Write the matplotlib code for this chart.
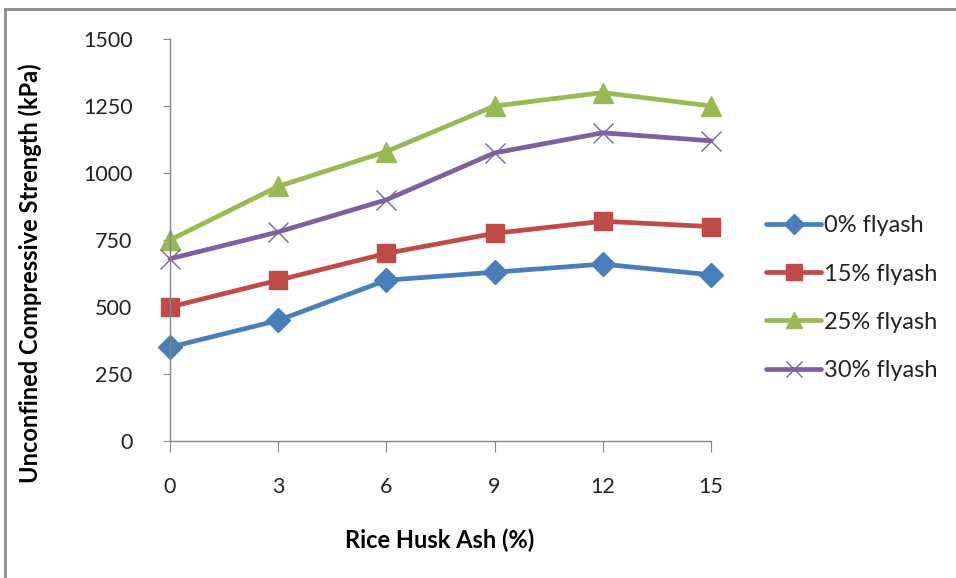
import matplotlib
matplotlib.use("Agg")
import matplotlib.pyplot as plt
from matplotlib.lines import Line2D

plt.rcParams['font.family'] = ['Lato', 'DejaVu Sans']

rha = [0, 3, 6, 9, 12, 15]
fly0 = [350, 450, 600, 630, 660, 620]
fly15 = [500, 600, 700, 775, 820, 800]
fly25 = [750, 950, 1080, 1250, 1300, 1250]
fly30 = [680, 780, 900, 1075, 1150, 1120]
labels = ["0% flyash", "15% flyash", "25% flyash", "30% flyash"]
yticks = [0, 250, 500, 750, 1000, 1250, 1500]
xticks = [0, 3, 6, 9, 12, 15]

colors = ["#4A7EBB", "#BE4B48", "#98B954", "#7D60A0"]

fig = plt.figure(figsize=(9.56, 5.78), dpi=100)
ax = fig.add_axes([170 / 956, 1 - 441 / 578, (711 - 170) / 956, (441 - 39) / 578])

styles = [
    dict(marker="D", markersize=12),
    dict(marker="s", markersize=13),
    dict(marker="^", markersize=14),
    dict(marker="x", markersize=14, markeredgewidth=1.0),
]
series = [fly0, fly15, fly25, fly30]
for vals, lab, col, st in zip(series, labels, colors, styles):
    ax.plot(rha, vals, color=col, linewidth=3.4, label=lab,
            markerfacecolor=col, markeredgecolor=col, solid_capstyle="round",
            clip_on=False, **st)

ax.set_xlim(0, 15)
ax.set_ylim(0, 1500)
ax.set_xticks(xticks)
ax.set_yticks(yticks)
ax.set_yticklabels([str(v) for v in yticks])
for s in ["top", "right"]:
    ax.spines[s].set_visible(False)
for s in ["left", "bottom"]:
    ax.spines[s].set_color("#868686")
    ax.spines[s].set_linewidth(1.0)
ax.tick_params(axis="y", direction="out", length=5, color="#868686",
               labelsize=15.5, labelcolor="#222222", pad=22)
ax.tick_params(axis="x", direction="out", length=8, color="#868686",
               labelsize=15.5, labelcolor="#222222", pad=18)

ax.set_xlabel("Rice Husk Ash (%)", fontsize=17, fontweight="bold")
ax.set_ylabel("Unconfined Compressive Strength (kPa)", fontsize=17,
              fontweight="bold")
ax.xaxis.set_label_coords(0.499, -0.246)
ax.xaxis.label.set_va("center")
ax.yaxis.set_label_coords(-0.259, 0.418)
ax.yaxis.label.set_va("center")

leg = fig.legend(loc="upper left", bbox_to_anchor=(757 / 956, 1 - 206 / 578),
                 frameon=False, fontsize=17, handlelength=2.3,
                 handletextpad=0.15, labelspacing=1.15, borderaxespad=0,
                 markerscale=0.85)
for t in leg.get_texts():
    t.set_color("#222222")

# outer frame
fig.add_artist(Line2D([5 / 956, 5 / 956], [0, 1 - 9 / 578],
                      transform=fig.transFigure, color="#8c8c8c", linewidth=2))
fig.add_artist(Line2D([5 / 956, 1], [1 - 9 / 578, 1 - 9 / 578],
                      transform=fig.transFigure, color="#8c8c8c", linewidth=2))

fig.savefig("out.png", dpi=100)
